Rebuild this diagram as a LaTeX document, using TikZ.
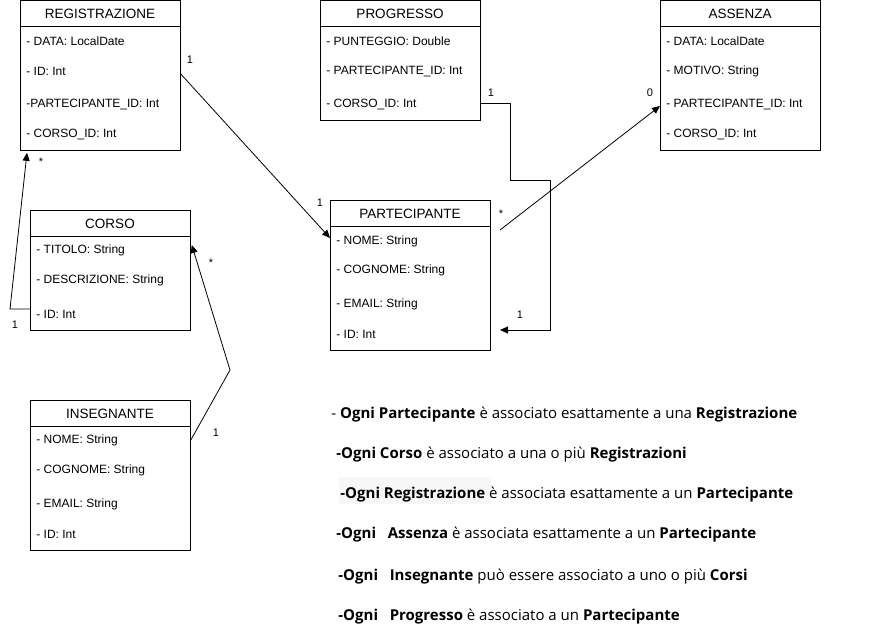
\documentclass[tikz,border=0pt]{standalone}
\usepackage{fontspec}
\setmainfont{Liberation Sans}
\newfontfamily\notefont{Open Sans}
\usepackage{tikz}
\usetikzlibrary{arrows.meta}
\usetikzlibrary{calc}
\usetikzlibrary{positioning}

\begin{document}
\begin{tikzpicture}[x=1pt,y=-1pt,line width=0.8pt,>={Triangle[length=8pt,width=7pt]}]
 \tikzstyle{cls}=[draw, rectangle, anchor=north west, inner sep=0pt, minimum width=160pt]
 \tikzstyle{ttl}=[inner sep=0pt, font=\fontsize{13.5}{16}\selectfont]
 \tikzstyle{attr}=[anchor=west, inner sep=0pt, font=\fontsize{12}{14}\selectfont]
 \tikzstyle{mult}=[inner sep=0pt, font=\fontsize{11}{13}\selectfont]
 \tikzstyle{note}=[anchor=west, inner sep=0pt, font=\notefont\fontsize{15}{18}\selectfont]
 \useasboundingbox (0,0) rectangle (890,641);

 % REGISTRAZIONE
 \node[cls, minimum height=150pt] (reg) at (20,0) {};
 \node[ttl] (regt) at (100,14) {REGISTRAZIONE};
 \draw (reg.north west) ++(0,26) -- ++(160,0);
 \node[attr] (reg1) at (26,41) {- DATA: LocalDate};
 \node[attr] (reg2) at (26,71) {- ID: Int};
 \node[attr] (reg3) at (26,104) {-PARTECIPANTE\_ID: Int};
 \node[attr] (reg4) at (26,134) {- CORSO\_ID: Int};

 % CORSO
 \node[cls, minimum height=120pt] (cor) at (30,210) {};
 \node[ttl] (cort) at (110,224) {CORSO};
 \draw (cor.north west) ++(0,26) -- ++(160,0);
 \node[attr] (cor1) at (36,250) {- TITOLO: String};
 \node[attr] (cor2) at (36,280) {- DESCRIZIONE: String};
 \node[attr] (cor3) at (36,314) {- ID: Int};

 % INSEGNANTE
 \node[cls, minimum height=150pt] (ins) at (30,400) {};
 \node[ttl] (inst) at (110,414) {INSEGNANTE};
 \draw (ins.north west) ++(0,26) -- ++(160,0);
 \node[attr] (ins1) at (36,440) {- NOME: String};
 \node[attr] (ins2) at (36,470) {- COGNOME: String};
 \node[attr] (ins3) at (36,504) {- EMAIL: String};
 \node[attr] (ins4) at (36,534) {- ID: Int};

 % PROGRESSO
 \node[cls, minimum height=120pt] (prog) at (320,0) {};
 \node[ttl] (progt) at (400,14) {PROGRESSO};
 \draw (prog.north west) ++(0,26) -- ++(160,0);
 \node[attr] (prog1) at (326,41) {- PUNTEGGIO: Double};
 \node[attr] (prog2) at (326,71) {- PARTECIPANTE\_ID: Int};
 \node[attr] (prog3) at (326,104) {- CORSO\_ID: Int};

 % PARTECIPANTE
 \node[cls, minimum height=150pt] (part) at (330,200) {};
 \node[ttl] (partt) at (410,214) {PARTECIPANTE};
 \draw (part.north west) ++(0,26) -- ++(160,0);
 \node[attr] (part1) at (336,241) {- NOME: String};
 \node[attr] (part2) at (336,270) {- COGNOME: String};
 \node[attr] (part3) at (336,304) {- EMAIL: String};
 \node[attr] (part4) at (336,334) {- ID: Int};

 % ASSENZA
 \node[cls, minimum height=150pt] (ass) at (660,0) {};
 \node[ttl] (asst) at (740,14) {ASSENZA};
 \draw (ass.north west) ++(0,26) -- ++(160,0);
 \node[attr] (ass1) at (666,41) {- DATA: LocalDate};
 \node[attr] (ass2) at (666,71) {- MOTIVO: String};
 \node[attr] (ass3) at (666,104) {- PARTECIPANTE\_ID: Int};
 \node[attr] (ass4) at (666,134) {- CORSO\_ID: Int};

 % connectors
 \coordinate (insbend) at (230,370);
 \coordinate (pgbend1) at (510,180);
 \coordinate (pgbend2) at (550,330);
 \coordinate (pgend) at (500,330);
 \coordinate (partout) at (500,230);
 \draw[->] ($(reg.east |- reg2)+(0,3)$) -- ($(part.west |- part1)+(0,-3)$);
 \draw[->] ($(cor.west |- cor3)+(0,-5)$) -- ++(-20,0) -- ($(reg.south west)+(7,2)$);
 \draw[->] (ins.east |- ins1) -- (insbend) -- ($(cor.east |- cor1)+(1,-5)$);
 \draw[->] ($(prog.east |- prog3)+(0,-1)$) -| (pgbend1) -| (pgbend2) -- (pgend);
 \draw[->] (partout) -- ($(ass.west |- ass3)+(0,2)$);

 % multiplicities
 \node[mult] (m1) at (190,60) {1};
 \node[mult] (m2) at (320,203) {1};
 \node[mult] (m3) at (41,162) {*};
 \node[mult] (m4) at (15,325) {1};
 \node[mult] (m5) at (211,263) {*};
 \node[mult] (m6) at (216,433) {1};
 \node[mult] (m7) at (491,93) {1};
 \node[mult] (m8) at (520,315) {1};
 \node[mult] (m9) at (501,214) {*};
 \node[mult] (m10) at (650,93) {0};

 % notes
 \fill[black!3] (339,477) rectangle (491,504);
 \node[note] (n1) at (331,415) {- \textbf{Ogni Partecipante} è associato esattamente a una \textbf{Registrazione}};
 \node[note] (n2) at (336,455) {\textbf{-Ogni Corso} è associato a una o più \textbf{Registrazioni}};
 \node[note] (n3) at (340,495) {\textbf{-Ogni Registrazione} è associata esattamente a un \textbf{Partecipante}};
 \node[note] (n4) at (336,535) {\textbf{-Ogni\ \ \ Assenza} è associata esattamente a un \textbf{Partecipante}};
 \node[note] (n5) at (338,577) {\textbf{-Ogni\ \ \ Insegnante} può essere associato a uno o più \textbf{Corsi}};
 \node[note] (n6) at (338,617) {\textbf{-Ogni\ \ \ Progresso} è associato a un \textbf{Partecipante}};
\end{tikzpicture}
\end{document}
